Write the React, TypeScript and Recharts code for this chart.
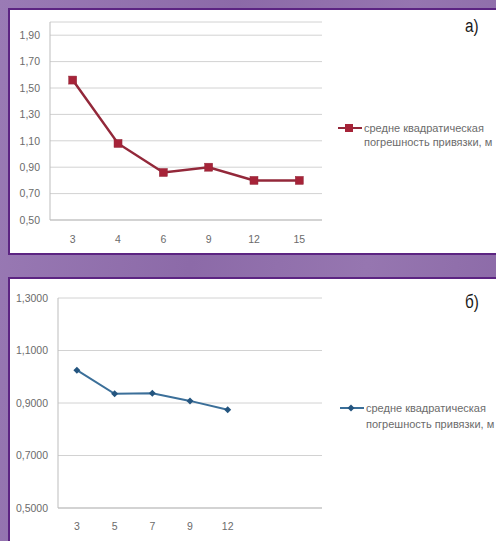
import React from "react";
import { LineChart, Line, XAxis, YAxis, CartesianGrid, Legend } from "recharts";

const categoriesA = ["3", "4", "6", "9", "12", "15"];
const valuesA = [1.56, 1.08, 0.86, 0.9, 0.8, 0.8];
const ticksA = [0.5, 0.7, 0.9, 1.1, 1.3, 1.5, 1.7, 1.9];

const categoriesB = ["3", "5", "7", "9", "12", "", ""];
const valuesB: (number | null)[] = [1.025, 0.935, 0.937, 0.908, 0.874, null, null];
const ticksB = [0.5, 0.7, 0.9, 1.1, 1.3];

const legendLines = ["средне квадратическая", "погрешность привязки, м"];
const seriesName = "средне квадратическая погрешность привязки, м";

const dataA = categoriesA.map((c, i) => ({ cat: c, v: valuesA[i] }));
const dataB = categoriesB.map((c, i) => ({ cat: c, v: valuesB[i] }));

const FONT = "'Liberation Sans', Arial, sans-serif";
const TICK_COLOR = "#6b6b6b";
const RED = "#a62338";
const RED_LINE = "#93283a";
const BLUE = "#24557f";
const BLUE_LINE = "#3b6f99";

const SquareDot = (props: any) => {
  const { cx, cy } = props;
  if (cx == null || cy == null) return null;
  return <rect x={cx - 4} y={cy - 4} width={8} height={8} fill={RED} stroke={RED_LINE} strokeWidth={0.5} />;
};

const DiamondDot = (props: any) => {
  const { cx, cy } = props;
  if (cx == null || cy == null) return null;
  return (
    <path
      d={`M${cx},${cy - 3.5} L${cx + 3.5},${cy} L${cx},${cy + 3.5} L${cx - 3.5},${cy} Z`}
      fill={BLUE}
    />
  );
};

const makeLegend = (kind: "square" | "diamond", lineH: number) => () =>
  (
    <div style={{ position: "relative", fontFamily: FONT, fontSize: 11, color: TICK_COLOR }}>
      <svg width={26} height={lineH} style={{ position: "absolute", left: 0, top: 0 }}>
        <line
          x1={0}
          x2={24}
          y1={lineH / 2}
          y2={lineH / 2}
          stroke={kind === "square" ? RED_LINE : BLUE_LINE}
          strokeWidth={2}
        />
        {kind === "square" ? (
          <rect x={7} y={lineH / 2 - 4} width={8} height={8} fill={RED} />
        ) : (
          <path
            d={`M11,${lineH / 2 - 3.5} L14.5,${lineH / 2} L11,${lineH / 2 + 3.5} L7.5,${lineH / 2} Z`}
            fill={BLUE}
          />
        )}
      </svg>
      <div style={{ marginLeft: 26 }}>
        {legendLines.map((t, i) => (
          <div key={i} style={{ lineHeight: `${lineH}px`, whiteSpace: "nowrap" }}>
            {t}
          </div>
        ))}
      </div>
    </div>
  );

const fmtA = (v: number) => v.toFixed(2).replace(".", ",");
const fmtB = (v: number) => v.toFixed(4).replace(".", ",");

const tickStyle = { fontSize: 10.5, fill: TICK_COLOR, fontFamily: FONT };

const labelStyle: React.CSSProperties = {
  position: "absolute",
  left: 455,
  fontFamily: "'Liberation Sans Narrow', 'Liberation Sans', Arial, sans-serif",
  fontSize: 18,
  color: "#1a1a1a",
  transform: "scaleX(0.85)",
  transformOrigin: "left top",
};

export default function App() {
  return (
    <div
      style={{
        position: "absolute",
        left: 0,
        top: 0,
        width: 496,
        height: 541,
        overflow: "hidden",
        background: "linear-gradient(100deg, #9a7bb5 0%, #8c6aa8 40%, #9676b0 70%, #8a68a6 100%)",
      }}
    >
      {/* Panel a */}
      <div
        style={{
          position: "absolute",
          left: 8,
          top: 8,
          width: 496,
          height: 243,
          background: "#ffffff",
          border: "2px solid #5c2482",
        }}
      >
        <LineChart
          width={486}
          height={243}
          data={dataA}
          margin={{ top: 12, right: 174, bottom: 3, left: 0 }}
        >
          <CartesianGrid horizontal vertical={false} stroke="#d2d2d2" strokeWidth={1} />
          <XAxis
            dataKey="cat"
            type="category"
            tick={tickStyle}
            tickLine={false}
            tickSize={0}
            tickMargin={16}
            height={30}
            padding={{ left: 22.7, right: 22.7 }}
            axisLine={{ stroke: "#bdbdbd" }}
            interval={0}
          />
          <YAxis
            type="number"
            domain={[0.5, 2.0]}
            ticks={ticksA}
            tickFormatter={fmtA}
            tick={tickStyle}
            tickLine={false}
            tickSize={0}
            tickMargin={10}
            width={40}
            axisLine={{ stroke: "#bdbdbd" }}
            interval={0}
          />
          <Line
            type="linear"
            dataKey="v"
            name={seriesName}
            stroke={RED_LINE}
            strokeWidth={2.5}
            dot={<SquareDot />}
            activeDot={false}
            isAnimationActive={false}
          />
          <Legend
            layout="horizontal"
            align="center"
            verticalAlign="middle"
            content={makeLegend("square", 14)}
            wrapperStyle={{ position: "absolute", left: 328, top: 111, width: 170, bottom: "auto" }}
          />
        </LineChart>
        <div style={{ ...labelStyle, top: 6 }}>а)</div>
      </div>

      {/* Panel b */}
      <div
        style={{
          position: "absolute",
          left: 8,
          top: 277,
          width: 496,
          height: 280,
          background: "#ffffff",
          border: "2px solid #5c2482",
        }}
      >
        <LineChart
          width={486}
          height={262}
          data={dataB}
          margin={{ top: 19, right: 174, bottom: 3, left: 0 }}
        >
          <CartesianGrid horizontal vertical={false} stroke="#d2d2d2" strokeWidth={1} />
          <XAxis
            dataKey="cat"
            type="category"
            tick={tickStyle}
            tickLine={false}
            tickSize={0}
            tickMargin={15}
            height={30}
            padding={{ left: 18.9, right: 18.9 }}
            axisLine={{ stroke: "#bdbdbd" }}
            interval={0}
          />
          <YAxis
            type="number"
            domain={[0.5, 1.3]}
            ticks={ticksB}
            tickFormatter={fmtB}
            tick={tickStyle}
            tickLine={false}
            tickSize={0}
            tickMargin={10}
            width={48}
            axisLine={{ stroke: "#bdbdbd" }}
            interval={0}
          />
          <Line
            type="linear"
            dataKey="v"
            name={seriesName}
            stroke={BLUE_LINE}
            strokeWidth={2}
            dot={<DiamondDot />}
            activeDot={false}
            connectNulls={false}
            isAnimationActive={false}
          />
          <Legend
            layout="horizontal"
            align="center"
            verticalAlign="middle"
            content={makeLegend("diamond", 16)}
            wrapperStyle={{ position: "absolute", left: 330, top: 121, width: 170, bottom: "auto" }}
          />
        </LineChart>
        <div style={{ ...labelStyle, top: 13 }}>б)</div>
      </div>
    </div>
  );
}
